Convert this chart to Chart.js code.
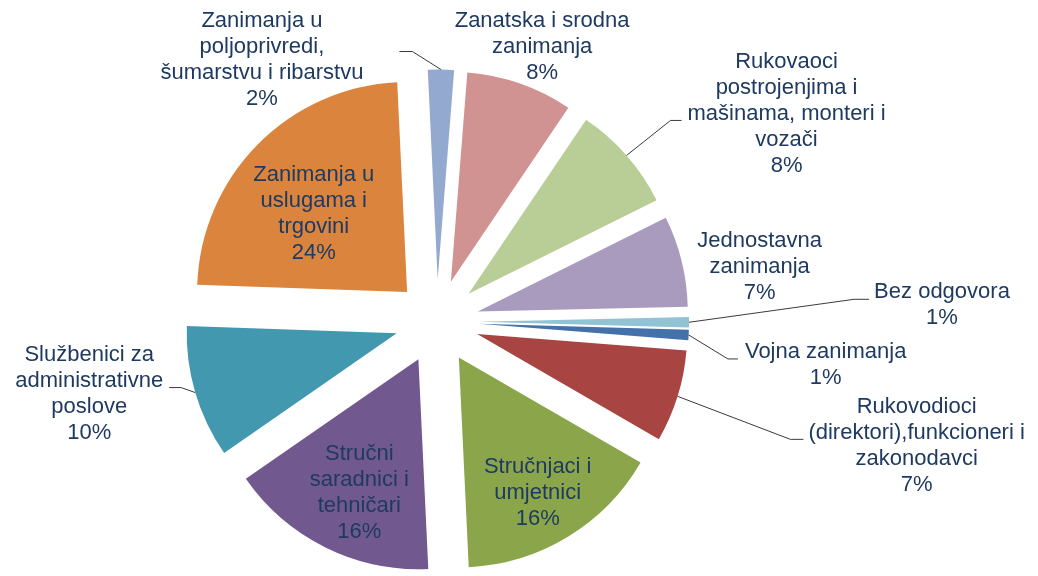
<!DOCTYPE html>
<html>
<head>
<meta charset="utf-8">
<script src="https://cdn.jsdelivr.net/npm/chart.js@4.4.1/dist/chart.umd.min.js"></script>
<style>
    html, body { margin: 0; padding: 0; background: #fff; }
    #wrap { width: 1038px; height: 576px; }
</style>
</head>
<body>
<div id="wrap"><canvas id="myChart" width="1038" height="576"></canvas></div>
<script>
// slices in clockwise order, starting just below 3 o'clock
let categories = [
    'Rukovodioci\n(direktori),funkcioneri i\nzakonodavci',
    'Stručnjaci i\numjetnici',
    'Stručni\nsaradnici i\ntehničari',
    'Službenici za\nadministrativne\nposlove',
    'Zanimanja u\nuslugama i\ntrgovini',
    'Zanimanja u\npoljoprivredi,\nšumarstvu i ribarstvu',
    'Zanatska i srodna\nzanimanja',
    'Rukovaoci\npostrojenjima i\nmašinama, monteri i\nvozači',
    'Jednostavna\nzanimanja',
    'Bez odgovora',
    'Vojna zanimanja'
];
let shares = [7.1, 15.9, 16.1, 10.2, 23.7, 2.0, 8.2, 8.2, 7.0, 0.8, 0.8];
let sliceColors = ['#A84543', '#8BA64A', '#71588F', '#4198AF', '#DB843D', '#93A9CF',
    '#D19392', '#B9CD96', '#A99BBD', '#92C3D4', '#4471A9'];

// label placement: [fraction of radius along the bisector, dx, dy]
let labelSpots = [
    [1, 239, 50], [0.75, -3, 1], [0.70, 6, 2], [1, -106, 1], [0.578, -7, 7],
    [1, -179, -10], [1, 22, -37], [1, 160, -42], [1, 78, 6], [1, 253, -17], [1, 137, 30]
];
// leader lines: [gap to text, dy from label middle, horizontal length]
let leaders = [
    [5, -7, 13], null, null, [6, -6, 12], null,
    [36, -8, 13], null, [6, 7, 11], null, [5, -6, 15], [7, -6, 10]
];

const explodeBy = 42;
const lineHeight = 26;
const labelFont = '22px "Liberation Sans", Arial, sans-serif';
const textColor = '#1f3a60';

const explode = {
    id: 'explode',
    beforeDatasetDraw(chart, args) {
        let ctx = chart.ctx;
        args.meta.data.forEach((arc) => {
            let p = arc.getProps(['startAngle', 'endAngle'], true);
            let mid = (p.startAngle + p.endAngle) / 2;
            ctx.save();
            ctx.translate(Math.cos(mid) * explodeBy, Math.sin(mid) * explodeBy);
            arc.draw(ctx);
            ctx.restore();
        });
        return false;
    }
};

const sliceLabels = {
    id: 'sliceLabels',
    afterDraw(chart) {
        let ctx = chart.ctx;
        let arcs = chart.getDatasetMeta(0).data;
        ctx.save();
        ctx.font = labelFont;
        ctx.textAlign = 'center';
        ctx.textBaseline = 'middle';

        arcs.forEach((arc, i) => {
            let p = arc.getProps(['x', 'y', 'startAngle', 'endAngle', 'outerRadius'], true);
            let mid = (p.startAngle + p.endAngle) / 2;
            let spot = labelSpots[i];
            let dist = explodeBy + spot[0] * p.outerRadius;
            let ex = p.x + Math.cos(mid) * dist;
            let ey = p.y + Math.sin(mid) * dist;
            let cx = ex + spot[1];
            let cy = ey + spot[2];

            let lines = categories[i].split('\n');
            lines.push(Math.round(shares[i]) + '%');
            let widest = Math.max(...lines.map((t) => ctx.measureText(t).width));

            let lead = leaders[i];
            if (lead) {
                let side = cx > ex ? -1 : 1;
                let ax = cx + side * (widest / 2 + lead[0]);
                let ay = cy + lead[1];
                let bx = ax + side * lead[2];
                ctx.beginPath();
                ctx.moveTo(ex, ey);
                ctx.lineTo(bx, ay);
                ctx.lineTo(ax, ay);
                ctx.strokeStyle = '#3a3a3a';
                ctx.lineWidth = 1;
                ctx.stroke();
            }

            ctx.fillStyle = textColor;
            let top = cy - (lines.length - 1) * lineHeight / 2;
            lines.forEach((t, k) => {
                ctx.fillText(t, cx, top + k * lineHeight);
            });
        });
        ctx.restore();
    }
};

let chart = new Chart(document.getElementById('myChart'), {
    type: 'pie',
    data: {
        labels: categories,
        datasets: [{
            data: shares,
            backgroundColor: sliceColors,
            borderWidth: 0,
            radius: 210,
            clip: false
        }]
    },
    options: {
        responsive: false,
        animation: false,
        rotation: 94.5,
        layout: { padding: { left: 0, right: 164, top: 67, bottom: 0 } },
        plugins: {
            legend: { display: false },
            tooltip: { enabled: false }
        }
    },
    plugins: [explode, sliceLabels]
});
</script>
</body>
</html>
